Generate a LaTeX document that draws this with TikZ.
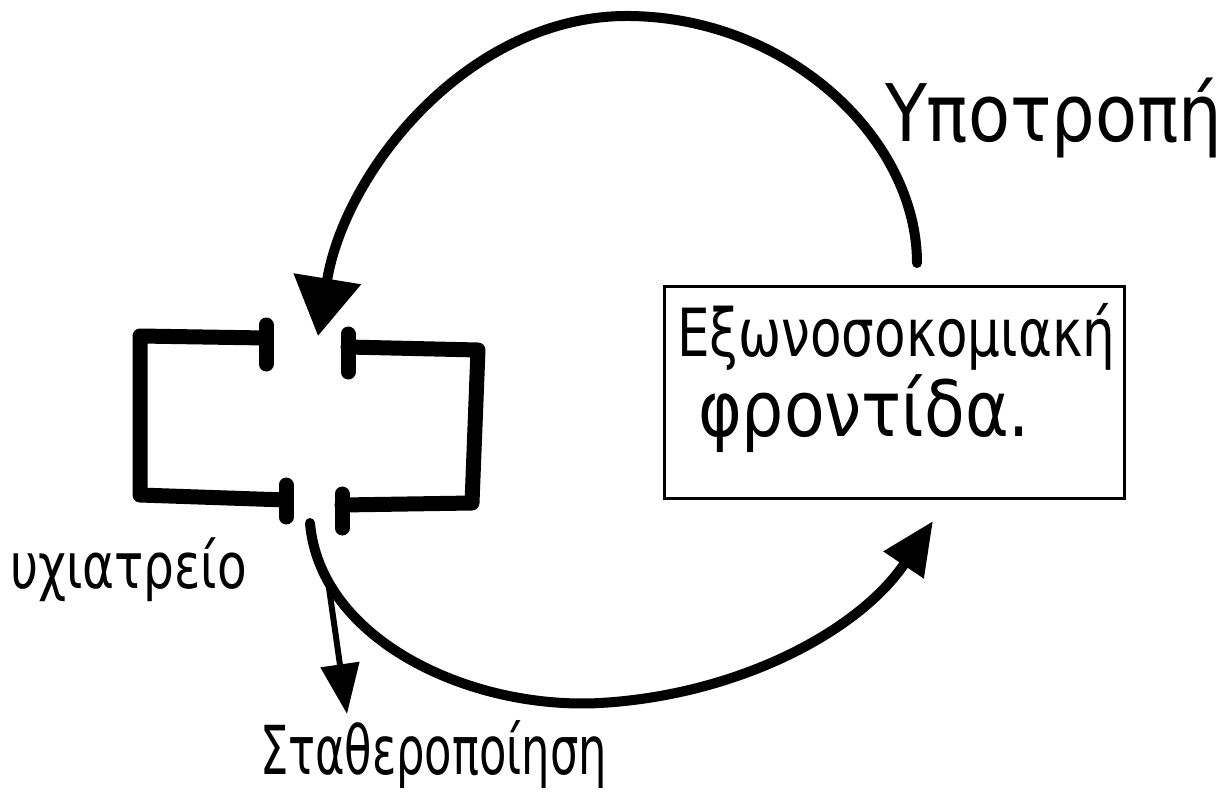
\documentclass[tikz,border=0pt]{standalone}
\usepackage{fontspec}
\usepackage{graphicx}
\setmainfont{DejaVu Sans}
\usetikzlibrary{arrows.meta}
\tikzset{
  wall/.style={line width=15pt, line cap=round, line join=round},
  bar/.style={line width=15pt, line cap=round},
  flow/.style={line width=10pt, line cap=round},
  lbl/.style={anchor=north west, inner sep=0pt, outer sep=0pt},
  carebox/.style={draw, line width=3pt, anchor=north west, inner sep=0pt, minimum width=460pt, minimum height=212pt}
}
\begin{document}
\begin{tikzpicture}[x=1pt,y=-1pt]
\fill[white] (0,0) rectangle (1230,795);
\useasboundingbox (0,0) rectangle (1230,795);
% hospital (two bracket halves with door bars)
\coordinate (hL1) at (266,338);
\coordinate (hL2) at (140,336);
\coordinate (hL3) at (140,495);
\coordinate (hL4) at (286,500);
\coordinate (hR1) at (348,347);
\coordinate (hR2) at (478,350);
\coordinate (hR3) at (472,503);
\coordinate (hR4) at (342,505);
\draw[wall] (hL1) -- (hL2) -- (hL3) -- (hL4);
\draw[wall] (hR1) -- (hR2) -- (hR3) -- (hR4);
\draw[bar] (266,325) -- (266,364);
\draw[bar] (286,485) -- (286,517);
\draw[bar] (348,334) -- (348,372);
\draw[bar] (342,494) -- (342,528);
% out-of-hospital care box
\node[carebox] (care) at (663,285) {};
\node[lbl] (careA) at (677,303) {\resizebox*{438pt}{67pt}{Εξωνοσοκομιακή}};
\node[lbl] (careB) at (698,375) {\resizebox*{332pt}{78pt}{φροντίδα.}};
% labels
\node[lbl] (relapse) at (885,78) {\resizebox*{337pt}{80pt}{Υποτροπή}};
\node[lbl] (clinic) at (10,538) {\resizebox*{237pt}{64pt}{υχιατρείο}};
\node[lbl] (stab) at (260,720) {\resizebox*{347pt}{68pt}{Σταθεροποίηση}};
% connectors
\coordinate (rs) at (917,263);
\coordinate (rt) at (318,336);
\coordinate (ds) at (310,523);
\coordinate (dt) at (933,521);
\coordinate (ss) at (329,588);
\coordinate (st) at (347,714);
\draw[flow, -{Triangle[length=58pt,width=66pt]}]
  (rs) .. controls (917,140) and (790,18) .. (630,16)
       .. controls (470,14) and (345,170) .. (rt);
\draw[flow, -{Triangle[length=53pt,width=46pt]}]
  (ds) .. controls (320,640) and (470,710) .. (600,703)
       .. controls (740,695) and (860,630) .. (dt);
\draw[line width=6pt, line cap=round, -{Triangle[length=50pt,width=38pt]}] (ss) -- (st);
\end{tikzpicture}
\end{document}
